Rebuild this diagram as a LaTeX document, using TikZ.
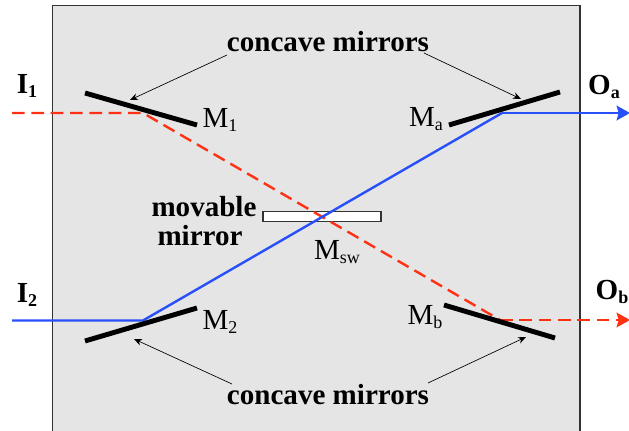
\documentclass[tikz,border=0pt]{standalone}
\usepackage{fontspec}
\setmainfont{Liberation Serif}
\usetikzlibrary{arrows.meta,calc,positioning}
\definecolor{boxgray}{RGB}{229,229,229}
\definecolor{beamred}{RGB}{255,48,20}
\definecolor{beamblue}{RGB}{40,80,250}
\newcommand{\lowsub}[1]{\raisebox{-3.5pt}{\fontsize{13.5}{14}\selectfont #1}}
\tikzset{
  mirror/.style={line width=3.7pt},
  redbeam/.style={beamred, line width=1.8pt, dash pattern=on 9.5pt off 5pt},
  bluebeam/.style={beamblue, line width=1.8pt},
  pointer/.style={black, line width=0.5pt, -{Stealth[length=6pt,width=5pt]}},
  boldlabel/.style={font=\fontsize{21.8}{22}\selectfont\bfseries, inner sep=0pt, align=center},
  mirrorlabel/.style={font=\fontsize{21.8}{22}\selectfont, inner sep=0pt}
}
\begin{document}
\begin{tikzpicture}[x=0.75pt,y=-0.75pt]
  \useasboundingbox (0,0) rectangle (629,431);
  % enclosure
  \fill[boxgray] (52.5,5.5) rectangle (580,431);
  \draw[line width=0.8pt, black!80] (52.5,431) -- (52.5,5.5) -- (580,5.5) -- (580,431);
  % movable mirror
  \node[draw=black!80, fill=white, line width=0.8pt, minimum width=88.5pt, minimum height=8pt, inner sep=0pt] (msw) at (322,216.5) {};
  % beam corners
  \coordinate (i1) at (12,113);
  \coordinate (r1) at (143,113);
  \coordinate (rb) at (500,320);
  \coordinate (ob) at (630,320);
  \coordinate (i2) at (12,320.5);
  \coordinate (r2) at (143,320.5);
  \coordinate (ra) at (502,113);
  \coordinate (oa) at (630,113);
  \draw[redbeam] (i1) -- (r1) -- (rb);
  \draw[redbeam, -{Stealth[length=10pt,width=11pt,inset=1.5pt]}] (rb) -- (ob);
  \draw[bluebeam] (i2) -- (r2) -- (ra);
  \draw[bluebeam, -{Stealth[length=10pt,width=11pt,inset=1.5pt]}] (ra) -- (oa);
  % mirrors
  \coordinate (m1a) at (85,93);   \coordinate (m1b) at (197,125);
  \coordinate (maa) at (449,125); \coordinate (mab) at (560,92);
  \coordinate (m2a) at (85,341);  \coordinate (m2b) at (197,308);
  \coordinate (mba) at (444,305); \coordinate (mbb) at (555,338);
  \draw[mirror] (m1a) -- (m1b);
  \draw[mirror] (maa) -- (mab);
  \draw[mirror] (m2a) -- (m2b);
  \draw[mirror] (mba) -- (mbb);
  % labels
  \node[boldlabel] (top) at (328,42) {concave mirrors};
  \node[boldlabel] (bottom) at (328,395) {concave mirrors};
  \node[boldlabel] (movable) at (204,221) {movable\\[0pt]mirror\hspace*{6pt}};
  \node[boldlabel] (i1lab) at (27,86) {I\lowsub{1}};
  \node[boldlabel] (i2lab) at (27,295) {I\lowsub{2}};
  \node[boldlabel] (oalab) at (604,87) {O\lowsub{a}};
  \node[boldlabel] (oblab) at (612,292) {O\lowsub{b}};
  \node[mirrorlabel] (m1lab) at (220,120) {M\lowsub{1}};
  \node[mirrorlabel] (malab) at (426,119) {M\lowsub{a}};
  \node[mirrorlabel] (m2lab) at (220,322) {M\lowsub{2}};
  \node[mirrorlabel] (mblab) at (425,317) {M\lowsub{b}};
  \node[mirrorlabel] (mswlab) at (337,252) {M\lowsub{sw}};
  % pointers
  \coordinate (pt1) at (227,55);  \coordinate (ph1) at (130,100);
  \coordinate (pt2) at (424,53);  \coordinate (ph2) at (521,99);
  \coordinate (pt3) at (232,384); \coordinate (ph3) at (134,339);
  \coordinate (pt4) at (428,383); \coordinate (ph4) at (526,337);
  \draw[pointer] (pt1) -- (ph1);
  \draw[pointer] (pt2) -- (ph2);
  \draw[pointer] (pt3) -- (ph3);
  \draw[pointer] (pt4) -- (ph4);
\end{tikzpicture}
\end{document}
